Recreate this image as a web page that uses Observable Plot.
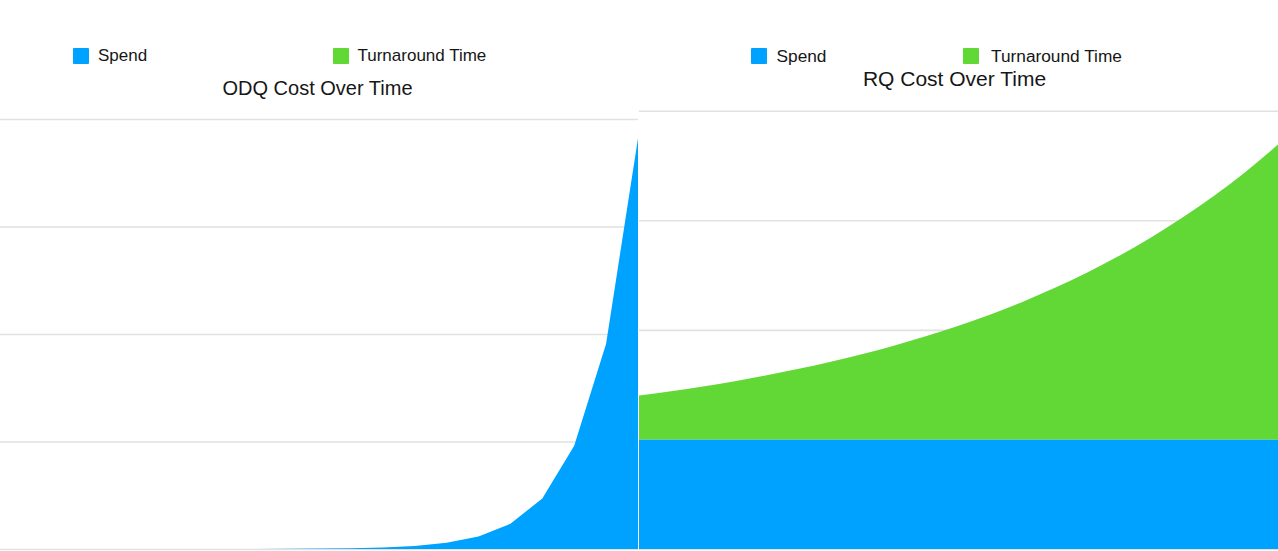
<!DOCTYPE html>
<html>
<head>
<meta charset="utf-8">
<script src="https://cdn.jsdelivr.net/npm/d3@7"></script>
<script src="https://cdn.jsdelivr.net/npm/@observablehq/plot@0.6"></script>
<style>
  html, body { margin: 0; padding: 0; background: #ffffff; }
  #root { position: relative; width: 1278px; height: 551px; overflow: hidden; font-family: "Liberation Sans", Arial, Helvetica, sans-serif; color: #161616; }
  .sw { position: absolute; width: 16px; height: 16px; top: 48px; border-radius: 1px; }
  .lt { position: absolute; top: 46px; height: 20px; line-height: 20px; font-size: 17px; white-space: nowrap; }
  .title { position: absolute; transform: translateX(-50%); white-space: nowrap; line-height: 20px; }
  .chart { position: absolute; top: 100px; }
</style>
</head>
<body>
<div id="root"></div>
<script>
// ---- data ----
const seriesNames = ["Spend", "Turnaround Time"];
const seriesColors = ["#00a2ff", "#61d836"];
const periods = [0, 1, 2, 3, 4, 5, 6, 7, 8, 9, 10, 11, 12, 13, 14, 15, 16, 17, 18, 19, 20];

// ODQ chart: spend only (in grid units)
const odqSpend = [0.000004, 0.000007, 0.000015, 0.00003, 0.00006, 0.00011, 0.00023, 0.00046, 0.0009, 0.0018,
                  0.0037, 0.0073, 0.015, 0.029, 0.058, 0.117, 0.235, 0.47, 0.96, 1.91, 3.82];

// RQ chart: constant spend + growing turnaround time
const rqSpend = [1, 1, 1, 1, 1, 1, 1, 1, 1, 1, 1, 1, 1, 1, 1, 1, 1, 1, 1, 1, 1];
const rqTurnaround = [0.40, 0.44, 0.484, 0.532, 0.586, 0.644, 0.709, 0.779, 0.857, 0.943,
                      1.037, 1.141, 1.255, 1.381, 1.519, 1.671, 1.838, 2.022, 2.224, 2.446, 2.691];

const yTicks = [0, 1, 2, 3, 4];
const odqTitle = "ODQ Cost Over Time";
const rqTitle = "RQ Cost Over Time";

// ---- layout ----
const root = document.getElementById("root");

function addLegend(xs, fontSize) {
  seriesNames.forEach((name, i) => {
    const sw = document.createElement("div");
    sw.className = "sw";
    sw.style.left = xs[i][0] + "px";
    sw.style.background = seriesColors[i];
    root.appendChild(sw);
    const t = document.createElement("div");
    t.className = "lt";
    t.style.left = xs[i][1] + "px";
    t.style.fontSize = fontSize + "px";
    t.textContent = name;
    root.appendChild(t);
  });
}
function addTitle(text, cx, top, fs) {
  const d = document.createElement("div");
  d.className = "title";
  d.style.left = cx + "px";
  d.style.top = top + "px";
  d.style.fontSize = fs + "px";
  d.textContent = text;
  root.appendChild(d);
}

addLegend([[73, 98], [333, 357.5]], 17);
addTitle(odqTitle, 317.5, 78, 20);
addLegend([[751, 776.5], [963, 991]], 17.3);
addTitle(rqTitle, 954.5, 69, 21);

// ---- ODQ chart ----
const odqRows = periods.map((p, i) => ({t: p, value: odqSpend[i], series: seriesNames[0]}));
const left = Plot.plot({
  width: 638, height: 451,
  marginTop: 19, marginBottom: 2, marginLeft: 0, marginRight: 0,
  x: {domain: [periods[0], periods[periods.length - 1]], axis: null},
  y: {domain: [0, 4], axis: null},
  color: {domain: seriesNames, range: seriesColors},
  style: {background: "transparent"},
  marks: [
    Plot.ruleY(yTicks, {stroke: "#e1e1e1", strokeWidth: 1.6}),
    Plot.areaY(odqRows, {x: "t", y: "value", fill: "series", fillOpacity: 1})
  ]
});
left.classList.add("chart");
left.style.left = "0px";
root.appendChild(left);

// ---- RQ chart ----
const rqRows = [];
periods.forEach((p, i) => rqRows.push({t: p, value: rqSpend[i], series: seriesNames[0]}));
periods.forEach((p, i) => rqRows.push({t: p, value: rqTurnaround[i], series: seriesNames[1]}));
const right = Plot.plot({
  width: 640, height: 451,
  marginTop: 10.7, marginBottom: 2, marginLeft: 1, marginRight: 0,
  x: {domain: [periods[0], periods[periods.length - 1]], axis: null},
  y: {domain: [0, 4], axis: null},
  color: {domain: seriesNames, range: seriesColors},
  style: {background: "transparent"},
  marks: [
    Plot.ruleY(yTicks, {stroke: "#e1e1e1", strokeWidth: 1.6}),
    Plot.areaY(rqRows, {x: "t", y: "value", fill: "series", z: "series", curve: "monotone-x", order: seriesNames})
  ]
});
right.classList.add("chart");
right.style.left = "638px";
root.appendChild(right);
</script>
</body>
</html>
